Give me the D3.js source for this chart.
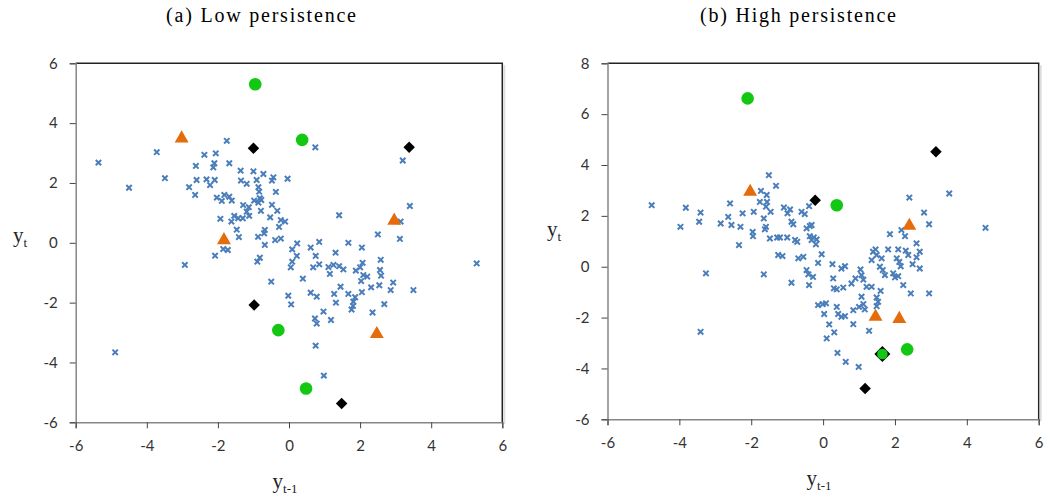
<html>
<meta charset="utf-8">
<script src="https://d3js.org/d3.v7.min.js"></script>
<style>
  body { margin: 0; background: #fff; }
  .tick text { font-family: Lato, "Open Sans", sans-serif; font-size: 15px; fill: #333; }
  .title { font-family: "Liberation Serif", serif; font-size: 20px; fill: #000; }
  .axtitle { font-family: "Liberation Serif", serif; font-size: 21px; fill: #222; }
</style>
<body>
<script>
// axis ticks
const xTicks = [-6, -4, -2, 0, 2, 4, 6];
const lowYTicks = [-6, -4, -2, 0, 2, 4, 6];
const highYTicks = [-6, -4, -2, 0, 2, 4, 6, 8];

// (a) low persistence, [y(t-1), y(t)]
const lowBlue = [
  [-5.36, 2.68], [-4.50, 1.84], [-3.72, 3.03], [-3.49, 2.16], [-4.89, -3.66],
  [3.20, 2.75], [3.40, 1.23], [3.14, 0.71], [3.50, -1.58], [5.28, -0.69],
  [0.75, -3.44], [0.98, -4.44],
  [-1.75, 3.41], [0.74, 3.19], [-2.38, 2.94], [-2.06, 2.99], [-2.62, 2.57],
  [-2.10, 2.66], [-2.13, 2.52], [-1.68, 2.66], [-1.36, 2.41], [-1.00, 2.39],
  [-0.72, 2.30], [-0.44, 2.19], [-0.04, 2.14], [-2.60, 2.10], [-2.32, 2.12],
  [-2.09, 2.10], [-1.35, 2.08], [-1.19, 1.97], [-0.91, 2.10], [-0.48, 2.08],
  [-2.81, 1.86], [-2.22, 1.93], [-0.86, 1.86], [-2.64, 1.60], [-1.82, 1.60],
  [-0.37, 1.70], [-0.84, 1.71], [-2.03, 1.51], [-1.68, 1.54], [-1.89, 1.40],
  [-1.61, 1.41], [-0.98, 1.41], [-0.82, 1.49], [-0.86, 1.34], [-0.78, 1.43],
  [-1.29, 1.26], [-1.13, 1.19], [-0.48, 1.27], [-1.19, 1.04], [-0.79, 1.07],
  [-0.33, 1.07], [-1.54, 0.90], [-1.30, 0.82], [-1.43, 0.82], [-1.93, 0.80],
  [-1.12, 0.90], [-0.53, 0.85], [-0.23, 0.76], [-0.11, 0.71], [-1.62, 0.71],
  [-0.28, 0.53], [-1.47, 0.44], [-0.68, 0.43], [-0.70, 0.32], [-1.41, 0.19],
  [-0.87, 0.20], [-0.39, 0.09], [-0.23, 0.14], [-0.68, -0.07], [-1.85, -0.21],
  [-1.72, -0.24], [-2.08, -0.43], [-0.82, -0.50], [-0.89, -0.63], [-2.93, -0.74],
  [1.41, 0.92], [2.50, 0.28], [3.12, 0.13], [0.23, -0.02], [0.85, 0.03],
  [1.67, 0.00], [2.05, -0.16], [2.58, -0.57], [0.09, -0.22], [0.22, -0.44],
  [0.61, -0.16], [0.75, -0.44], [1.31, -0.33], [0.09, -0.63], [0.05, -0.82],
  [0.68, -0.82], [0.85, -0.72], [1.11, -0.81], [1.25, -0.74], [1.41, -0.78],
  [1.53, -0.89], [1.15, -1.04], [1.88, -0.93], [2.00, -0.82], [2.07, -0.67],
  [2.09, -1.08], [2.20, -1.13], [2.56, -0.91], [2.59, -1.10], [2.93, -1.33],
  [0.39, -1.20], [-0.50, -1.30], [2.03, -1.28], [2.31, -1.49], [2.54, -1.42],
  [2.86, -1.58], [1.45, -1.47], [0.61, -1.67], [0.78, -1.80], [1.27, -1.71],
  [1.67, -1.71], [1.86, -1.82], [2.05, -1.65], [-0.02, -1.77], [0.06, -2.06],
  [1.32, -2.00], [1.81, -1.97], [1.80, -2.11], [2.68, -2.05], [0.97, -2.30],
  [1.76, -2.23], [2.35, -2.33], [0.73, -2.53], [0.78, -2.70], [1.18, -2.58]
];
const lowGreen = [[-0.95, 5.30], [0.37, 3.44], [-0.30, -2.92], [0.48, -4.87]];
const lowBlack = [[-1.00, 3.16], [3.38, 3.19], [-0.98, -2.08], [1.48, -5.37]];
const lowOrange = [[-3.02, 3.49], [-1.83, 0.09], [2.96, 0.74], [2.47, -3.05]];
const lowBoth = [];

// (b) high persistence
const highBlue = [
  [-4.77, 2.42], [-3.82, 2.32], [-3.97, 1.57], [4.52, 1.53],
  [-1.51, 3.60], [-1.31, 3.18], [-1.73, 2.98], [-1.57, 2.82], [-1.76, 2.55],
  [-1.56, 2.55], [-1.59, 2.36], [-2.59, 2.49], [-3.41, 2.13], [-3.45, 1.77],
  [-2.85, 1.70], [-2.64, 1.96], [-2.55, 1.64], [-2.24, 2.10], [-2.30, 1.57],
  [-1.93, 2.16], [-1.65, 1.90], [-1.46, 2.16], [-1.09, 2.33], [-0.92, 2.25],
  [-0.99, 2.10], [-0.60, 2.16], [-0.51, 2.07], [-0.39, 2.38], [-1.59, 1.57],
  [-1.62, 1.47], [-1.96, 1.37], [-1.95, 1.20], [-1.48, 1.11], [-1.28, 1.15],
  [-1.20, 1.15], [-1.00, 1.15], [-0.88, 1.77], [-0.83, 1.67], [-0.46, 1.51],
  [-0.37, 1.60], [-0.32, 1.64], [-0.78, 1.05], [-0.72, 0.98], [-0.37, 1.20],
  [-0.26, 1.15], [-0.18, 1.07], [-0.32, 1.05], [-2.34, 0.85], [-0.20, 0.88],
  [-1.25, 0.46], [-1.13, 0.42], [-0.69, 0.33], [-0.55, 0.39], [-0.04, 0.49],
  [-0.14, 0.15], [0.26, 0.10], [0.51, -0.07], [0.61, 0.02], [1.04, -0.11],
  [-0.46, -0.13], [-0.41, -0.30], [-0.28, -0.40], [-0.39, -0.72], [-0.88, -0.63],
  [-1.65, -0.30], [-3.26, -0.26], [-3.41, -2.56], [0.28, -0.46], [0.30, -0.85],
  [0.38, -0.89], [0.56, -0.82], [0.79, -0.66], [0.90, -0.46], [1.07, -0.33],
  [1.12, -0.51], [1.35, 0.26], [1.39, 0.59], [1.46, 0.68], [1.49, 0.46],
  [1.63, 0.33], [1.58, 0.00], [1.66, -0.13], [1.72, -0.33], [1.21, -0.79],
  [1.35, -0.79], [1.60, -0.95], [1.49, -1.21], [1.53, -1.38], [1.49, -1.55],
  [1.81, 0.68], [1.86, 1.28], [2.18, 1.44], [2.28, 1.20], [2.09, 0.68],
  [2.05, 0.33], [2.12, 0.19], [2.16, 0.02], [2.09, -0.37], [2.30, 0.63],
  [2.37, 0.46], [1.95, -0.26], [2.00, -0.42], [2.23, -0.72], [2.49, 0.10],
  [2.60, 0.92], [2.69, 0.59], [2.60, 0.37], [2.69, -0.07], [2.44, -1.05],
  [2.95, -1.05], [2.40, 2.72], [2.81, 2.13], [2.95, 1.67], [3.51, 2.88],
  [-0.14, -1.51], [-0.01, -1.47], [0.08, -1.44], [0.38, -1.58], [0.03, -1.86],
  [0.42, -1.86], [0.51, -1.97], [0.61, -1.94], [0.17, -2.27], [0.31, -2.58],
  [0.10, -2.82], [0.84, -1.71], [1.00, -1.58], [1.12, -1.47], [1.16, -1.68],
  [1.07, -1.18], [0.84, -2.26], [1.28, -2.52], [0.40, -3.39], [0.63, -3.74],
  [0.99, -3.94]
];
const highGreen = [[-2.10, 6.62], [0.38, 2.42], [2.34, -3.25]];
const highBlack = [[-0.22, 2.61], [3.14, 4.52], [1.17, -4.79]];
const highOrange = [[-2.03, 2.95], [2.40, 1.61], [1.46, -1.97], [2.12, -2.05]];
// black and green marker at the same point
const highBoth = [[1.65, -3.43]];

const svg = d3.select('body').append('svg')
  .attr('width', 1048)
  .attr('height', 495);

const blue = '#4a7ebb', green = '#12c812', orange = '#e46c0a';

function panel(p) {
  const x = d3.scaleLinear().domain([-6, 6]).range([p.left, p.right]);
  const y = d3.scaleLinear().domain(p.yDomain).range([p.bottom, p.top]);
  const g = svg.append('g');

  // frame: top and right edges
  g.append('path')
    .attr('d', `M${p.left},${p.top}H${p.right}V${p.bottom}`)
    .attr('fill', 'none').attr('stroke', '#222').attr('stroke-width', 1.5);
  g.append('line')
    .attr('x1', p.right + 2).attr('x2', p.right + 2)
    .attr('y1', p.top + 2).attr('y2', p.bottom + 2)
    .attr('stroke', '#ddd').attr('stroke-width', 2);

  const yAxis = g.append('g')
    .attr('transform', `translate(${p.left},0)`)
    .call(d3.axisLeft(y).tickValues(p.yTicks).tickSize(6).tickPadding(12).tickFormat(d3.format('d')));
  const xAxis = g.append('g')
    .attr('transform', `translate(0,${p.bottom})`)
    .call(d3.axisBottom(x).tickValues(xTicks).tickSize(6).tickPadding(12).tickFormat(d3.format('d')));
  [yAxis, xAxis].forEach(a => {
    a.select('.domain').attr('stroke', '#868686').attr('stroke-width', 1.5);
    a.selectAll('.tick line').attr('stroke', '#444');
    a.selectAll('.tick text').text(d => d < 0 ? '-' + Math.abs(d) : d);
  });

  // blue crosses
  g.selectAll('.blue').data(p.blue).enter().append('path')
    .attr('class', 'blue')
    .attr('d', d => {
      const cx = x(d[0]), cy = y(d[1]), s = 2.7;
      return `M${cx - s},${cy - s}L${cx + s},${cy + s}M${cx + s},${cy - s}L${cx - s},${cy + s}`;
    })
    .attr('stroke', blue).attr('stroke-width', 2).attr('fill', 'none');

  const diamond = (data, cls, size) => g.selectAll('.' + cls).data(data).enter().append('path')
    .attr('class', cls)
    .attr('transform', d => `translate(${x(d[0])},${y(d[1])}) rotate(45)`)
    .attr('d', d3.symbol().type(d3.symbolSquare).size(size))
    .attr('fill', '#000');
  const dot = (data, cls, r) => g.selectAll('.' + cls).data(data).enter().append('circle')
    .attr('class', cls)
    .attr('cx', d => x(d[0])).attr('cy', d => y(d[1]))
    .attr('r', r)
    .attr('fill', green);

  diamond(p.black, 'blk', 66);

  g.selectAll('.org').data(p.orange).enter().append('path')
    .attr('class', 'org')
    .attr('transform', d => `translate(${x(d[0])},${y(d[1])})`)
    .attr('d', d3.symbol().type(d3.symbolTriangle).size(84))
    .attr('fill', orange);

  dot(p.green, 'grn', 6.3);

  diamond(p.both, 'bblk', 128);
  dot(p.both, 'bgrn', 5.3);

  // titles
  svg.append('text').attr('class', 'title')
    .attr('x', p.titleX).attr('y', 22)
    .attr('text-anchor', 'middle')
    .attr('textLength', p.titleW).attr('lengthAdjust', 'spacing')
    .text(p.title);

  const xt = svg.append('text').attr('class', 'axtitle')
    .attr('x', (p.left + p.right) / 2 - 4).attr('y', p.xTitleY)
    .attr('text-anchor', 'middle');
  xt.append('tspan').text('y');
  xt.append('tspan').attr('font-size', 13).attr('dy', 5).text('t-1');

  const yt = svg.append('text').attr('class', 'axtitle')
    .attr('x', p.yTitleX).attr('y', p.yTitleY)
    .attr('text-anchor', 'middle');
  yt.append('tspan').text('y');
  yt.append('tspan').attr('font-size', 13).attr('dy', 5).text('t');
}

panel({
  left: 75.7, right: 502.3, top: 63.3, bottom: 422.3,
  yDomain: [-6, 6], yTicks: lowYTicks,
  blue: lowBlue, green: lowGreen, black: lowBlack, orange: lowOrange, both: lowBoth,
  title: '(a) Low persistence', titleX: 261, titleW: 190,
  xTitleY: 488, yTitleX: 20, yTitleY: 242
});

panel({
  left: 607.5, right: 1038.7, top: 63.3, bottom: 419.3,
  yDomain: [-6, 8], yTicks: highYTicks,
  blue: highBlue, green: highGreen, black: highBlack, orange: highOrange, both: highBoth,
  title: '(b) High persistence', titleX: 798, titleW: 196,
  xTitleY: 485, yTitleX: 554, yTitleY: 236
});
</script>
</body>
</html>
